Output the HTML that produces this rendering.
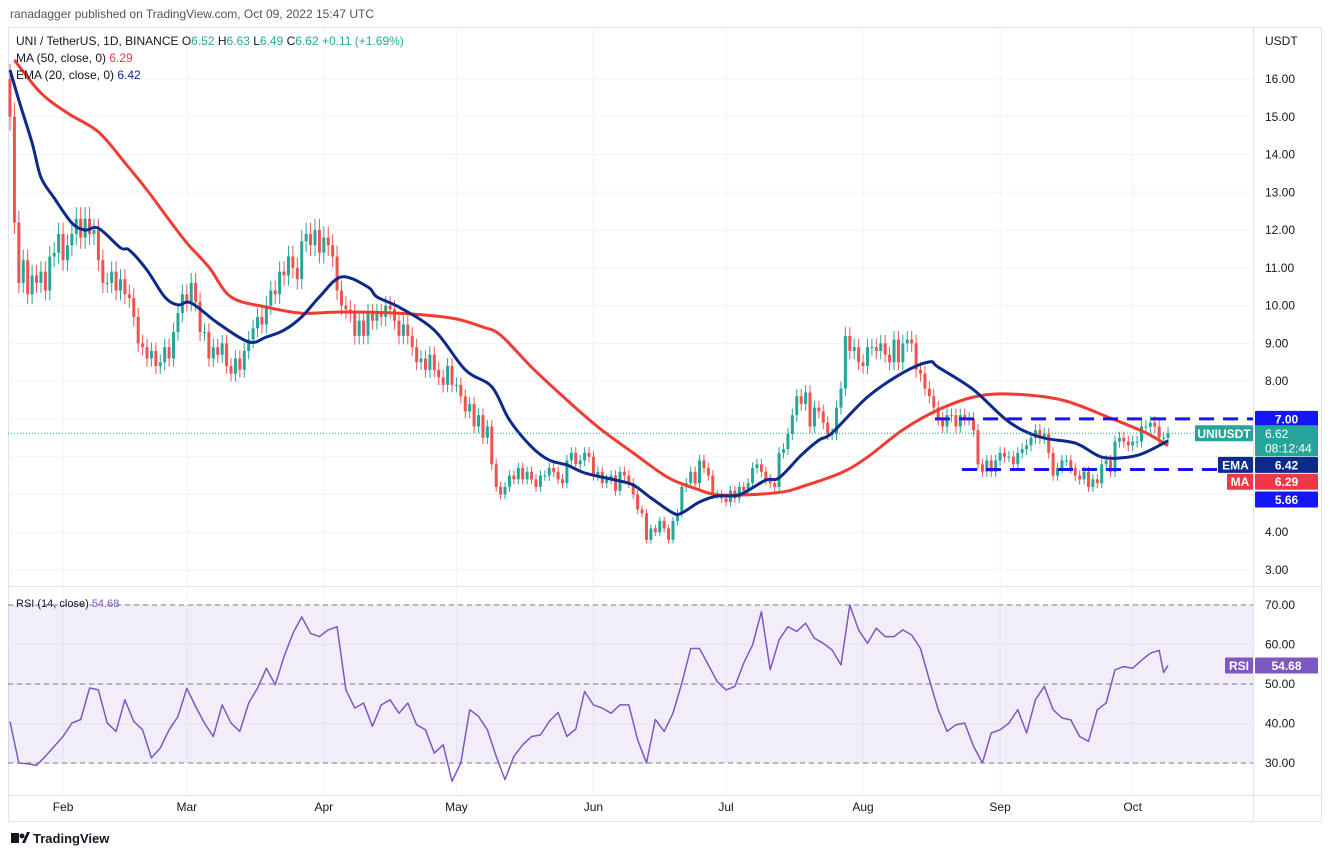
<!DOCTYPE html>
<html><head><meta charset="utf-8">
<style>
html,body{margin:0;padding:0;background:#fff;}
body{width:1332px;height:857px;overflow:hidden;font-family:"Liberation Sans",sans-serif;}
svg text{font-family:"Liberation Sans",sans-serif;}
</style></head>
<body>
<svg id="chart" width="1332" height="857" viewBox="0 0 1332 857" xmlns="http://www.w3.org/2000/svg">
<text x="10" y="18" font-size="12" fill="#50535e">ranadagger published on TradingView.com, Oct 09, 2022 15:47 UTC</text>
<rect x="8.5" y="27.5" width="1313" height="794" fill="none" stroke="#e0e3eb"/>
<g id="grid"></g>
<g id="rsiBand"></g>
<g id="candles"></g>
<g id="lines"></g>
<g id="levels"></g>
<g id="axis"></g>
<g id="legend">
<text x="16" y="45" font-size="12" fill="#131722">UNI / TetherUS, 1D, BINANCE <tspan fill="#131722">O</tspan><tspan fill="#26a69a">6.52</tspan> H<tspan fill="#26a69a">6.63</tspan> L<tspan fill="#26a69a">6.49</tspan> C<tspan fill="#26a69a">6.62 +0.11 (+1.69%)</tspan></text>
<text x="16" y="62" font-size="12" fill="#131722">MA (50, close, 0) <tspan fill="#f23645">6.29</tspan></text>
<text x="16" y="79" font-size="12" fill="#131722">EMA (20, close, 0) <tspan fill="#0d2a8a">6.42</tspan></text>
<text x="16" y="607" font-size="11" fill="#131722">RSI (14, close) <tspan fill="#7e57c2">54.68</tspan></text>
</g>
<g>
<rect x="11" y="833" width="8" height="10" fill="#131722"/><circle cx="22" cy="836" r="2.5" fill="#131722"/><path d="M22 843 L27 832 L30 832 L25 843Z" fill="#131722"/>
<text x="33" y="843" font-size="13" font-weight="bold" fill="#131722">TradingView</text>
</g>
</svg>
<script>
const closes = [
15.0,12.2,10.6,11.2,10.3,10.8,10.6,10.9,10.4,11.3,11.4,11.9,
11.2,11.6,11.9,12.3,11.8,12.3,11.9,12.0,11.2,10.6,10.6,10.9,10.4,10.7,10.3,10.2,9.7,9.0,8.9,8.6,8.8,8.4,8.5,8.9,8.6,9.3,9.8,10.3,
10.1,10.6,10.1,9.3,9.3,8.6,8.9,8.7,9.0,8.4,8.2,8.6,8.3,8.8,9.1,9.4,9.7,9.5,10.0,10.4,10.3,10.9,10.8,11.3,11.0,10.7,11.7,11.9,11.6,12.0,11.4,
11.8,11.6,11.3,10.4,10.0,9.9,9.8,9.2,9.6,9.2,9.8,9.6,9.8,9.7,10.0,9.9,9.6,9.2,9.5,9.2,8.9,8.5,8.6,8.3,8.7,8.3,8.1,7.9,8.4,7.9,
7.9,7.6,7.2,7.4,6.8,7.1,6.5,6.8,5.8,5.2,5.0,5.2,5.5,5.4,5.7,5.4,5.6,5.4,5.2,5.5,5.5,5.7,5.6,5.4,5.3,5.9,6.1,5.8,5.9,6.1,6.0,
5.5,5.6,5.3,5.4,5.5,5.1,5.6,5.5,5.3,5.0,4.6,4.5,3.8,4.1,4.0,4.3,4.1,3.8,4.3,4.5,5.2,5.3,5.6,5.3,5.9,5.7,5.5,5.0,5.0,4.9,
4.8,5.1,4.9,5.2,5.1,5.3,5.7,5.8,5.6,5.4,5.3,5.2,6.1,6.2,6.6,7.1,7.6,7.4,7.7,6.8,7.3,7.2,6.9,6.6,6.6,7.3,7.8,9.2,8.8,8.9,8.5,
8.4,8.9,8.9,8.8,9.0,8.7,8.5,9.1,8.5,9.0,9.1,9.0,8.3,8.2,7.8,7.6,7.3,7.0,6.8,7.1,7.1,6.8,7.1,7.0,7.0,6.7,5.8,5.6,5.9,5.6,5.9,
6.1,6.0,6.0,5.8,6.1,6.2,6.3,6.5,6.7,6.5,6.6,6.1,5.5,5.7,5.9,5.9,5.7,5.5,5.4,5.6,5.2,5.4,5.3,5.8,5.9,5.6,6.4,6.5,6.4,6.3,
6.4,6.4,6.8,6.8,6.9,6.8,6.5,6.5,6.62];
const firstOpen = 16.0;
const maDays = [1,7,13,20,26,31,36,40,45,50,58,66,75,88,100,107,111,118,126,133,141,149,156,160,167,175,179,188,194,202,210,218,226,238,249,257,262];
const maVals = [16.5,15.63,15.1,14.6,13.78,13.06,12.27,11.66,11.02,10.23,9.96,9.8,9.83,9.8,9.67,9.43,9.22,8.37,7.5,6.79,6.1,5.44,5.12,4.99,4.99,5.07,5.2,5.57,5.99,6.71,7.24,7.58,7.66,7.5,7.02,6.63,6.29];
const emaDays = [0,2,5,7,10,14,17,20,25,27,31,35,38,41,47,54,58,62,66,70,75,81,83,88,96,103,109,113,118,122,126,130,137,141,145,150,152,156,160,165,171,174,179,183,186,194,202,208,210,218,226,233,241,247,253,257,262];
const emaVals = [16.24,15.44,14.31,13.4,12.85,12.19,12.0,12.05,11.53,11.47,10.94,10.23,10.02,10.07,9.54,9.04,9.17,9.35,9.7,10.23,10.76,10.49,10.23,9.96,9.35,8.3,7.85,6.97,6.26,5.91,5.78,5.57,5.38,5.25,4.91,4.51,4.51,4.8,4.96,4.99,5.38,5.44,6.04,6.44,6.63,7.58,8.22,8.51,8.37,7.77,6.92,6.52,6.36,5.99,5.99,6.12,6.42];
const rsiVals = [40.5,30,29.8,29.4,31.7,34.2,36.7,40.1,41,49,48.5,40.1,38,46,40.5,38.4,31.3,33.8,38.4,41.8,48.9,44.3,40.1,36.7,44.7,40.1,38,45.2,48.9,54,49.8,56.9,62.8,67,62.8,62,63.7,64.5,48.5,43.9,45.2,39.3,44.7,46,42.6,45.2,39.7,38.4,32.5,34.6,25.4,30,43.5,41.8,38.4,31.7,25.8,31.7,34.6,36.7,37.1,40.5,42.8,36.7,38.6,48.1,44.7,
43.9,42.6,44.7,44.7,35.9,30,41,38,42.6,50.2,59,59,54.8,50.6,48.5,49.4,55.3,59.9,68.3,53.6,61.2,64.5,63.3,65.4,61.6,60.3,58.6,54.8,70,63.7,60.3,64.1,62,62,63.7,62.4,59,51,43.5,38,39.7,40.1,34.2,30,37.6,38.4,40.1,43.5,37.6,46,49.4,43.5,41.4,40.9,36.7,35.5,43.5,45.2,53.6,54.4,54,56,57.8,58.5,52.9,54.68];
const priceTicks = [16,15,14,13,12,11,10,9,8,7,6,5,4,3];
const rsiTicks = [70,60,50,40,30];
const monthLabels = ["Feb","Mar","Apr","May","Jun","Jul","Aug","Sep","Oct"];
const monthDays = [12,40,71,101,132,162,193,224,254];
const lastPrice = 6.62, resistance = 7.00, support = 5.66, emaLast = 6.42, maLast = 6.29, rsiLast = 54.68;

const NS="http://www.w3.org/2000/svg";
const X0=10, DX=4.42, PL=8, PR=1253;
const xOf = d => X0 + d*DX;
const yP = p => 570 - (p-3)*37.77;
const yR = v => 763 - (v-30)*3.95;
function mk(tag, attrs, parent){const e=document.createElementNS(NS,tag);for(const k in attrs)e.setAttribute(k,attrs[k]);parent.appendChild(e);return e;}
const grid=document.getElementById('grid'), band=document.getElementById('rsiBand'), cg=document.getElementById('candles'), lg=document.getElementById('lines'), lv=document.getElementById('levels'), ax=document.getElementById('axis');

priceTicks.forEach(p=>{const l=mk('line',{x1:PL,x2:PR,y1:yP(p),y2:yP(p),stroke:'#f0f3fa','stroke-width':1},grid);

});
rsiTicks.forEach(v=>{const l=mk('line',{x1:PL,x2:PR,y1:yR(v),y2:yR(v),stroke:'#f0f3fa'},grid);

});
monthDays.forEach(d=>{const l=mk('line',{x1:xOf(d),x2:xOf(d),y1:28,y2:795,stroke:'#f0f3fa'},grid);

});
let s=mk('line',{x1:PL,x2:1322,y1:586.5,y2:586.5,stroke:'#e0e3eb'},grid);


s=mk('line',{x1:PL,x2:1322,y1:795.5,y2:795.5,stroke:'#e0e3eb'},grid);


s=mk('line',{x1:PR+0.5,x2:PR+0.5,y1:28,y2:822,stroke:'#e0e3eb'},grid);



let b=mk('rect',{x:PL,y:yR(70),width:PR-PL,height:yR(30)-yR(70),fill:'#7e57c2','fill-opacity':0.1},band);


[70,50,30].forEach(v=>{const l=mk('line',{x1:PL,x2:PR,y1:yR(v),y2:yR(v),stroke:'#787b86','stroke-dasharray':'5 4','stroke-width':1},band);

});

let prev=firstOpen;
closes.forEach((c,i)=>{
  const o=prev; prev=c;
  const up=c>=o, col=up?'#26a69a':'#ef5350';
  const hi=Math.max(o,c)*1.025, lo=Math.min(o,c)*0.975;
  const x=xOf(i);
  const g=mk('g',{},cg);
  
  
  mk('line',{x1:x,x2:x,y1:yP(hi),y2:yP(lo),stroke:col,'stroke-width':1},g);
  const yt=yP(Math.max(o,c)), yb=yP(Math.min(o,c));
  mk('rect',{x:x-1.5,y:yt,width:3,height:Math.max(1,yb-yt),fill:col},g);
});

function path(days, vals, yf){return days.map((d,i)=>(i?'L':'M')+xOf(d).toFixed(1)+' '+yf(vals[i]).toFixed(1)).join(' ');}
function smooth(days, vals, yf){
  const P=days.map((d,i)=>[xOf(d),yf(vals[i])]);
  let d='M'+P[0][0].toFixed(1)+' '+P[0][1].toFixed(1);
  for(let i=0;i<P.length-1;i++){
    const p0=P[Math.max(0,i-1)],p1=P[i],p2=P[i+1],p3=P[Math.min(P.length-1,i+2)];
    const c1=[p1[0]+(p2[0]-p0[0])/6,p1[1]+(p2[1]-p0[1])/6];
    const c2=[p2[0]-(p3[0]-p1[0])/6,p2[1]-(p3[1]-p1[1])/6];
    d+=' C'+c1[0].toFixed(1)+' '+c1[1].toFixed(1)+' '+c2[0].toFixed(1)+' '+c2[1].toFixed(1)+' '+p2[0].toFixed(1)+' '+p2[1].toFixed(1);
  }
  return d;
}
let p=mk('path',{d:smooth(maDays,maVals,yP),fill:'none',stroke:'#f23c32','stroke-width':3,'stroke-linejoin':'round'},lg);


p=mk('path',{d:smooth(emaDays,emaVals,yP),fill:'none',stroke:'#0d2a8a','stroke-width':3,'stroke-linejoin':'round'},lg);


const rsiDays=rsiVals.map((v,i)=>i<131?i*2:(i===131?261:262));
p=mk('path',{d:path(rsiDays,rsiVals,yR),fill:'none',stroke:'#7e57c2','stroke-width':1.5,'stroke-linejoin':'round'},lg);



let l=mk('line',{x1:PL,x2:PR,y1:yP(lastPrice),y2:yP(lastPrice),stroke:'#26a69a','stroke-dasharray':'1 2','stroke-width':1},lv);


l=mk('line',{x1:935,x2:PR,y1:yP(resistance),y2:yP(resistance),stroke:'#1515f5','stroke-dasharray':'15 9','stroke-width':3},lv);


l=mk('line',{x1:962,x2:PR,y1:yP(support),y2:yP(support),stroke:'#1515f5','stroke-dasharray':'15 9','stroke-width':3},lv);



function txt(x,y,t,opts,parent){const e=mk('text',Object.assign({x:x,y:y,'font-size':12,fill:'#131722'},opts||{}),parent);e.textContent=t;return e;}
let t=txt(1265,45,'USDT',{},ax);


priceTicks.forEach(v=>{if(v===7||v===6||v===5)return;const e=txt(1265,yP(v)+4,v.toFixed(2),{},ax);

});
rsiTicks.forEach(v=>{const e=txt(1265,yR(v)+4,v.toFixed(2),{},ax);

});
monthLabels.forEach((m,i)=>{const e=txt(xOf(monthDays[i]),811,m,{'text-anchor':'middle'},ax);

});
function box(x,y,w,h,fill,label,name){const g=mk('g',{},ax);


mk('rect',{x:x,y:y,width:w,height:h,fill:fill,rx:1},g);
const e=mk('text',{x:x+w/2,y:y+h/2+4.5,'font-size':12,fill:'#fff','text-anchor':'middle','font-weight':'bold'},g);e.textContent=label;return g;}
box(1255,yP(resistance)-8,63,16,'#1515f5',resistance.toFixed(2),'resistance-label');
box(1195,yP(lastPrice)-8,58,16,'#26a69a','UNIUSDT','symbol-label');
const g2=box(1255,yP(lastPrice)-8,63,31,'#26a69a','','last-price-label');
let e=mk('text',{x:1265,y:yP(lastPrice)+4.5,'font-size':12,fill:'#fff'},g2);e.textContent=lastPrice.toFixed(2);
e=mk('text',{x:1265,y:yP(lastPrice)+19,'font-size':12,fill:'#fff'},g2);e.textContent='08:12:44';
box(1218,yP(emaLast)+16,35,16,'#0d2a8a','EMA','ema-tag');
box(1255,yP(emaLast)+16,63,16,'#0d2a8a',emaLast.toFixed(2),'ema-value-label');
box(1227,yP(maLast)+28,26,16,'#f23645','MA','ma-tag');
box(1255,yP(maLast)+28,63,16,'#f23645',maLast.toFixed(2),'ma-value-label');
box(1255,yP(support)+22,63,16,'#1515f5',support.toFixed(2),'support-label');
box(1225,yR(rsiLast)-8,28,16,'#7e57c2','RSI','rsi-tag');
box(1255,yR(rsiLast)-8,63,16,'#7e57c2',rsiLast.toFixed(2),'rsi-value-label');
</script>
</body></html>
